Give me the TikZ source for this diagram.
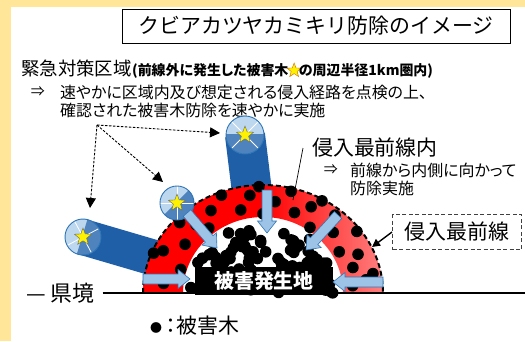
\documentclass[tikz,border=0pt]{standalone}
\usepackage{fontspec}
\setmainfont{Noto Sans CJK JP}[RawFeature=+palt]
\newfontfamily\titlefont{Noto Sans CJK JP}
\usepackage{tikz}
\usetikzlibrary{arrows.meta,calc,positioning,shapes.geometric}
\usepackage{xcolor}

\definecolor{paper}{HTML}{FFE699}
\definecolor{capblue}{HTML}{BDD7EE}
\definecolor{edgeblue}{HTML}{2E75B6}
\definecolor{tubeblue}{HTML}{1F5FA8}
\definecolor{arrowblue}{HTML}{9DC3E6}
\pgfdeclarehorizontalshading{ringshade}{100bp}{color(0bp)=(red); color(50bp)=(red); color(75bp)=(red!50!white); color(100bp)=(red!50!white)}

\newcommand{\fsz}[1]{\fontsize{#1}{#1}\selectfont}

% block arrow from #1 to #2
\newcommand{\blockarrow}[2]{%
  \coordinate (hb) at ($(#2)!12bp!(#1)$);
  \draw[inarrow] ($(#1)!5bp!90:(#2)$) -- ($(hb)!5bp!90:(#2)$) -- ($(hb)!9.5bp!90:(#2)$) -- (#2)
    -- ($(hb)!9.5bp!-90:(#2)$) -- ($(hb)!5bp!-90:(#2)$) -- ($(#1)!5bp!-90:(#2)$) -- cycle;}
% tube from #1 to #2, half width #3
\newcommand{\drawtube}[3]{%
  \fill[tubeblue] ($(#1)!#3!90:(#2)$) -- ($(#2)!#3!-90:(#1)$) -- ($(#2)!#3!90:(#1)$) -- ($(#1)!#3!-90:(#2)$) -- cycle;}

\tikzset{
  starcap/.pic={
    \begin{scope}
      \clip (0,0) circle (1);
      \fill[capblue] (-1,-1) rectangle (1,1);
      \fill[tubeblue!70!capblue] (-1,-0.05) rectangle (1,1);
      \draw[white, line width=.8bp] (-1,-1) -- (1,1) (1,-1) -- (-1,1);
    \end{scope}
    \draw[edgeblue, line width=.9bp] (0,0) circle (1);
    \node[capstar] {};
  }
}

\begin{document}
\begin{tikzpicture}[x=1bp, y=-1bp,
  titlebox/.style={draw, line width=.8bp, minimum width=388bp, minimum height=34bp, font=\titlefont\fsz{21}},
  textline/.style={anchor=west, inner sep=0pt},
  capstar/.style={star, star points=5, star point ratio=2.4, fill=yellow, draw=black!60, line width=.4bp, inner sep=0pt, minimum size=18bp},
  inarrow/.style={fill=arrowblue, draw=edgeblue, line width=.6bp},
  fanarrow/.style={dash pattern=on 2.5bp off 1.5bp, line width=.9bp, -{Triangle[length=10bp,width=10bp]}},
  sitebox/.style={fill=black, text=white, font=\bfseries\fsz{20}, minimum width=138bp, minimum height=28bp},
  frontline/.style={dash pattern=on 5bp off 3bp, line width=2bp},
  pest/.style={fill=black}]
  \useasboundingbox (0,0) rectangle (525,341);
  \fill[paper] (0,0) rectangle (525,341);
  \fill[white] (11,7) rectangle (525,341);

  \node[titlebox] (title) at (316,26) {クビアカツヤカミキリ防除のイメージ};

  % emergency zone
  \node[textline, font=\fsz{18.5}] (zone) at (21,68) {緊急対策区域};
  \node[anchor=base west, inner sep=0pt, font=\bfseries\fsz{14}] (zonenote) at (zone.base east) {(前線外に発生した被害木};
  \node[capstar, minimum size=15bp, draw=orange!80!black, right=1bp of zonenote] (zonestar) {};
  \node[anchor=base west, inner sep=0pt, font=\bfseries\fsz{14}] (zonenote2) at (zonestar.east |- zonenote.base) {の周辺半径1km圏内)};
  \node[textline, font=\fsz{16}] (check) at (60,92) {速やかに区域内及び想定される侵入経路を点検の上、};
  \node[left=15bp of check, inner sep=0pt, font=\fsz{14}] (checkarrow) {⇒};
  \node[textline, font=\fsz{16}] (check2) at (60,110) {確認された被害木防除を速やかに実施};

  \coordinate (capA) at (83,237);
  \coordinate (capB) at (177,203);
  \coordinate (capC) at (245,135);
  \coordinate (fan) at (97,125);
  \coordinate (fanA) at (90,208);
  \coordinate (fanB) at (163,182);
  \coordinate (fanC) at (220,133);
  \draw[fanarrow] (fan) -- (fanA);
  \draw[fanarrow] (fan) -- (fanB);
  \draw[fanarrow] (fan) -- (fanC);

  \coordinate (tubeA) at (158,259);
  \coordinate (tubeC) at (253,200);
  \drawtube{capA}{tubeA}{18bp}
  \drawtube{capC}{tubeC}{20bp}

  % front ring
  \shade[shading=ringshade] (143,293) arc[start angle=180, end angle=360, x radius=120, y radius=108]
    -- (343,293) arc[start angle=0, end angle=-180, x radius=80, y radius=76] -- cycle;
  \foreach \t/\s in {174/.5, 163/.15, 155/.75, 146/.35, 137/.85, 128/.2, 120/.6, 111/.9, 104/.3,
      97/.7, 90/.1, 83/.5, 76/.9, 70/.3, 63/.65, 56/.1, 50/.8, 43/.4, 36/.9, 30/.2, 24/.6,
      17/.35, 11/.8, 5/.25, 158/.95, 132/.5, 92/.95, 60/.95, 8/.6}
    \fill[pest] ({263+(80+40*\s)*cos(\t)}, {293-(76+32*\s)*sin(\t)}) circle (5.8);
  \pgfmathsetseed{11}
  \foreach \i in {1,...,85}{
    \pgfmathsetmacro{\t}{180*rnd}
    \pgfmathsetmacro{\s}{0.1+0.9*sqrt(rnd)}
    \fill[pest] ({263+74*\s*cos(\t)}, {293-70*\s*sin(\t)}) circle (5.8);
  }
  \draw[frontline] (143,293) arc[start angle=180, end angle=360, x radius=120, y radius=108];

  \pic[scale=18, rotate=73] at (capA) {starcap};
  \pic[scale=17, rotate=45] at (capB) {starcap};
  \pic[scale=19] at (capC) {starcap};

  \node[sitebox] (site) at (264,281) {被害発生地};

  \coordinate (inL0) at (143,279);
  \coordinate (inL1) at (190,279);
  \coordinate (inA0) at (187,213);
  \coordinate (inA1) at (217,248);
  \coordinate (inT0) at (267,190);
  \coordinate (inT1) at (267,233);
  \coordinate (inB0) at (338,215);
  \coordinate (inB1) at (306,250);
  \coordinate (inR0) at (383,282);
  \coordinate (inR1) at (333,282);
  \blockarrow{inL0}{inL1}
  \blockarrow{inA0}{inA1}
  \blockarrow{inT0}{inT1}
  \blockarrow{inB0}{inB1}
  \blockarrow{inR0}{inR1}

  % prefecture border
  \node[anchor=west, inner sep=0pt, font=\fsz{22}] (border) at (26,293) {— 県境};
  \coordinate (edge) at (525,293);
  \draw[line width=2bp] ([xshift=8bp]border.east) -- (edge);

  \node[textline, font=\fsz{21}] (legend) at (150,326) {\raisebox{1.5bp}{\fsz{12}●}\hspace{4bp}：被害木};

  % inside the front
  \node[textline, font=\fsz{21}] (inner) at (312,148) {侵入最前線内};
  \node[textline, font=\fsz{16}] (inner2) at (350,170) {前線から内側に向かって};
  \node[left=12bp of inner2, inner sep=0pt, font=\fsz{14}] (inner2arrow) {⇒};
  \node[textline, font=\fsz{16}] (inner3) at (350,188) {防除実施};
  \coordinate (ringtop) at (293,200);
  \draw[line width=.7bp] ([xshift=-9bp]inner.west) -- (ringtop);

  \node[draw=black!75, dash pattern=on 4bp off 2.5bp, line width=.9bp, minimum width=129bp, minimum height=35bp, font=\fsz{21}] (front) at (457,232) {侵入最前線};
  \coordinate (frontpt) at (372,247);
  \draw[line width=1.4bp, -{Triangle[length=8bp,width=8bp]}] (front.west) -- (frontpt);
\end{tikzpicture}
\end{document}
